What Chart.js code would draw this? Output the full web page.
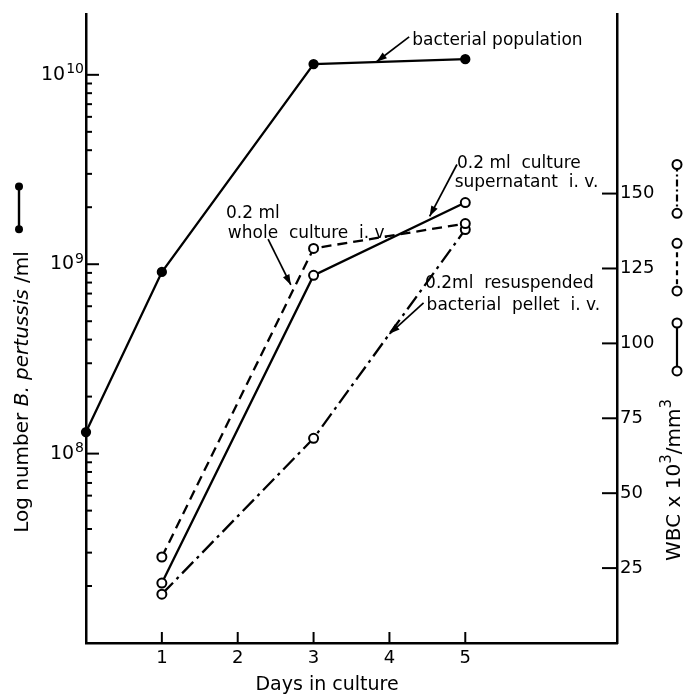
<!DOCTYPE html>
<html>
<head>
<meta charset="utf-8">
<script src="https://cdn.jsdelivr.net/npm/chart.js@4/dist/chart.umd.min.js"></script>
<style>
html, body { margin: 0; padding: 0; background: #fff; }
</style>
</head>
<body>
<canvas id="myChart" width="689" height="696"></canvas>
<script>
// values
var days = [0, 1, 3, 5];
var bacteria = [1.3e8, 9.1e8, 1.14e10, 1.21e10];   // left log axis, per ml
var wbcDays = [1, 3, 5];
var wholeCulture = [28.7, 131.7, 140];   // WBC x 10^3/mm^3
var supernatant = [20, 122.7, 147];
var pellet = [16.3, 68.3, 138];
var dayTicks = [1, 2, 3, 4, 5];
var wbcTicks = [25, 50, 75, 100, 125, 150];
var decadeTicks = [1e8, 1e9, 1e10];

var FONT = '"DejaVu Sans", sans-serif';

function pts(xs, ys) {
  return xs.map(function (x, i) { return { x: x, y: ys[i] }; });
}

// minor + major ticks for the log axis
var logTicks = [];
for (var e = 7; e <= 10; e++) {
  for (var m = 1; m <= 9; m++) {
    var v = m * Math.pow(10, e);
    if (v > 1e7 && v <= 1e10) logTicks.push(v);
  }
}

// annotation texts, placed in day / WBC units
var notes = [
  { text: 'bacterial population', x: 4.30, y: 201 },
  { text: '0.2 ml  culture', x: 4.89, y: 160.1 },
  { text: 'supernatant  i. v.', x: 4.86, y: 153.7 },
  { text: '0.2 ml', x: 1.845, y: 143.4 },
  { text: 'whole  culture  i. v.', x: 1.87, y: 136.8 },
  { text: '0.2ml  resuspended', x: 4.47, y: 120.1 },
  { text: 'bacterial  pellet  i. v.', x: 4.49, y: 112.5 }
];
var arrows = [
  { from: [4.26, 202.3], to: [3.83, 194] },
  { from: [4.89, 159.7], to: [4.53, 142.4] },
  { from: [2.40, 134.8], to: [2.70, 119.5] },
  { from: [4.45, 113.5], to: [4.00, 103.2] }
];
// little line keys on the right (WBC units) and left (log units)
var keys = [
  { dash: [7, 3, 2, 3], from: 159.7, to: 143.4 },
  { dash: [5, 4], from: 133.4, to: 117.5 },
  { dash: [], from: 106.8, to: 90.8 }
];
var bactKey = [2.57e9, 1.53e9];

function drawArrow(ctx, x1, y1, x2, y2) {
  ctx.beginPath();
  ctx.moveTo(x1, y1);
  ctx.lineTo(x2, y2);
  ctx.stroke();
  var a = Math.atan2(y2 - y1, x2 - x1), L = 11;
  ctx.beginPath();
  ctx.moveTo(x2, y2);
  ctx.lineTo(x2 - L * Math.cos(a - 0.33), y2 - L * Math.sin(a - 0.33));
  ctx.lineTo(x2 - L * Math.cos(a + 0.33), y2 - L * Math.sin(a + 0.33));
  ctx.closePath();
  ctx.fill();
}

function openCircle(ctx, x, y) {
  ctx.setLineDash([]);
  ctx.beginPath();
  ctx.arc(x, y, 4.5, 0, Math.PI * 2);
  ctx.fillStyle = '#fff';
  ctx.fill();
  ctx.lineWidth = 2;
  ctx.strokeStyle = '#000';
  ctx.stroke();
}

var extras = {
  id: 'extras',
  afterDraw: function (chart) {
    var ctx = chart.ctx;
    var sx = chart.scales.x, sy = chart.scales.y, sw = chart.scales.y2;
    var area = chart.chartArea;
    ctx.save();
    ctx.strokeStyle = '#000';
    ctx.fillStyle = '#000';
    ctx.lineWidth = 2;
    ctx.setLineDash([]);

    // x ticks pointing up
    dayTicks.forEach(function (d) {
      var x = sx.getPixelForValue(d);
      ctx.beginPath(); ctx.moveTo(x, area.bottom); ctx.lineTo(x, area.bottom - 11); ctx.stroke();
    });
    // right ticks pointing left
    wbcTicks.forEach(function (w) {
      var y = sw.getPixelForValue(w);
      ctx.beginPath(); ctx.moveTo(area.right, y); ctx.lineTo(area.right - 15, y); ctx.stroke();
    });
    // log ticks pointing right
    logTicks.forEach(function (v) {
      var y = sy.getPixelForValue(v);
      var major = decadeTicks.indexOf(v) >= 0;
      ctx.beginPath(); ctx.moveTo(area.left, y); ctx.lineTo(area.left + (major ? 13 : 6), y); ctx.stroke();
    });

    // log labels with superscripts
    ctx.textBaseline = 'middle';
    decadeTicks.forEach(function (v) {
      var y = sy.getPixelForValue(v);
      var exp = String(Math.round(Math.log10(v)));
      ctx.font = '14px ' + FONT;
      var ew = ctx.measureText(exp).width;
      ctx.textAlign = 'left';
      var right = area.left - 2;
      ctx.fillText(exp, right - ew, y - 5);
      ctx.font = '19px ' + FONT;
      ctx.textAlign = 'right';
      ctx.fillText('10', right - ew - 1, y);
    });

    // axis titles
    ctx.textAlign = 'center';
    ctx.font = '19px ' + FONT;
    ctx.fillText('Days in culture', 327, area.bottom + 42);

    // left title, rotated, with italic species name
    var parts = [
      { t: 'Log number ', f: '20px ' + FONT },
      { t: 'B. pertussis', f: 'italic 20px ' + FONT },
      { t: ' /ml', f: '20px ' + FONT }
    ];
    var total = 0;
    parts.forEach(function (p) { ctx.font = p.f; p.w = ctx.measureText(p.t).width; total += p.w; });
    ctx.save();
    ctx.translate(23, 392);
    ctx.rotate(-Math.PI / 2);
    ctx.textAlign = 'left';
    var cx = -total / 2;
    parts.forEach(function (p) { ctx.font = p.f; ctx.fillText(p.t, cx, 0); cx += p.w; });
    ctx.restore();

    // right title
    var rparts = [
      { t: 'WBC x 10', f: '20px ' + FONT, dy: 0 },
      { t: '3', f: '15px ' + FONT, dy: -8 },
      { t: '/mm', f: '20px ' + FONT, dy: 0 },
      { t: '3', f: '15px ' + FONT, dy: -8 }
    ];
    total = 0;
    rparts.forEach(function (p) { ctx.font = p.f; p.w = ctx.measureText(p.t).width; total += p.w; });
    ctx.save();
    ctx.translate(area.right + 58, 480);
    ctx.rotate(-Math.PI / 2);
    ctx.textAlign = 'left';
    cx = -total / 2;
    rparts.forEach(function (p) { ctx.font = p.f; ctx.fillText(p.t, cx, p.dy); cx += p.w; });
    ctx.restore();

    // annotations
    ctx.font = '17px ' + FONT;
    ctx.textAlign = 'left';
    ctx.textBaseline = 'middle';
    notes.forEach(function (n) {
      ctx.fillText(n.text, sx.getPixelForValue(n.x), sw.getPixelForValue(n.y));
    });
    ctx.lineWidth = 1.7;
    arrows.forEach(function (a) {
      drawArrow(ctx, sx.getPixelForValue(a.from[0]), sw.getPixelForValue(a.from[1]),
        sx.getPixelForValue(a.to[0]), sw.getPixelForValue(a.to[1]));
    });

    // keys on the right
    var kx = area.right + 60;
    keys.forEach(function (k) {
      var y1 = sw.getPixelForValue(k.from), y2 = sw.getPixelForValue(k.to);
      ctx.setLineDash(k.dash);
      ctx.lineWidth = 2.2;
      ctx.strokeStyle = '#000';
      ctx.beginPath(); ctx.moveTo(kx, y1); ctx.lineTo(kx, y2); ctx.stroke();
      openCircle(ctx, kx, y1);
      openCircle(ctx, kx, y2);
    });

    // key on the left
    ctx.setLineDash([]);
    ctx.lineWidth = 2.4;
    ctx.fillStyle = '#000';
    var bx = 19, b1 = sy.getPixelForValue(bactKey[0]), b2 = sy.getPixelForValue(bactKey[1]);
    ctx.beginPath(); ctx.moveTo(bx, b1); ctx.lineTo(bx, b2); ctx.stroke();
    [b1, b2].forEach(function (y) { ctx.beginPath(); ctx.arc(bx, y, 4, 0, Math.PI * 2); ctx.fill(); });

    ctx.restore();
  }
};

var openPoint = {
  pointRadius: 4.5,
  pointBackgroundColor: '#fff',
  pointBorderColor: '#000',
  pointBorderWidth: 2,
  borderColor: '#000',
  borderWidth: 2.3,
  yAxisID: 'y2',
  clip: false
};

var ctx = document.getElementById('myChart').getContext('2d');
var myChart = new Chart(ctx, {
  type: 'line',
  data: {
    datasets: [
      {
        label: 'bacterial population',
        data: pts(days, bacteria),
        borderColor: '#000',
        borderWidth: 2.3,
        pointRadius: 4,
        pointBackgroundColor: '#000',
        pointBorderColor: '#000',
        yAxisID: 'y',
        clip: false
      },
      Object.assign({ label: '0.2 ml whole culture i.v.', data: pts(wbcDays, wholeCulture), borderDash: [10, 6] }, openPoint),
      Object.assign({ label: '0.2 ml culture supernatant i.v.', data: pts(wbcDays, supernatant) }, openPoint),
      Object.assign({ label: '0.2 ml resuspended bacterial pellet i.v.', data: pts(wbcDays, pellet), borderDash: [16, 5, 3, 5] }, openPoint)
    ]
  },
  options: {
    responsive: false,
    animation: false,
    devicePixelRatio: 1,
    layout: { padding: { top: 12, left: 0, right: 0, bottom: 0 } },
    plugins: { legend: { display: false }, tooltip: { enabled: false } },
    scales: {
      x: {
        type: 'linear',
        min: 0,
        max: 7,
        afterBuildTicks: function (s) { s.ticks = dayTicks.map(function (d) { return { value: d }; }); },
        afterFit: function (s) { s.height = 53; },
        grid: { display: false, drawTicks: false },
        border: { display: true, color: '#000', width: 2.5 },
        ticks: { color: '#000', padding: 5, font: { family: FONT, size: 18 } }
      },
      y: {
        type: 'logarithmic',
        position: 'left',
        min: 1e7,
        max: 2.1e10,
        afterFit: function (s) { s.width = 86; },
        grid: { display: false, drawTicks: false },
        border: { display: true, color: '#000', width: 2.5 },
        ticks: { display: false }
      },
      y2: {
        type: 'linear',
        position: 'right',
        min: 0,
        max: 210,
        afterBuildTicks: function (s) { s.ticks = wbcTicks.map(function (w) { return { value: w }; }); },
        afterFit: function (s) { s.width = 72; },
        grid: { display: false, drawTicks: false },
        border: { display: true, color: '#000', width: 2.5 },
        ticks: { color: '#000', padding: 3, font: { family: FONT, size: 18 } }
      }
    }
  },
  plugins: [extras]
});
</script>
</body>
</html>
